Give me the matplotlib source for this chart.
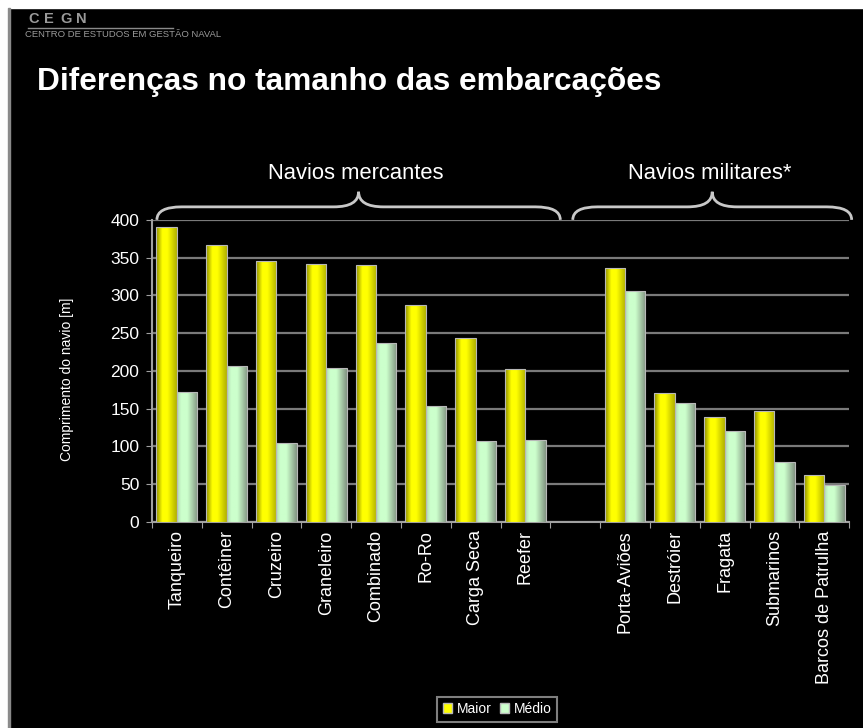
import matplotlib
matplotlib.use("Agg")
import matplotlib.pyplot as plt
import numpy as np
from matplotlib.path import Path
from matplotlib.patches import PathPatch, Patch, Rectangle
from matplotlib.colors import LinearSegmentedColormap
import matplotlib.transforms as mtransforms

plt.rcParams['font.family'] = ['Liberation Sans', 'DejaVu Sans']

# ship types (merchant, then military) and lengths in metres
mercantes = ['Tanqueiro', 'Contêiner', 'Cruzeiro', 'Graneleiro', 'Combinado',
             'Ro-Ro', 'Carga Seca', 'Reefer']
militares = ['Porta-Aviões', 'Destróier', 'Fragata', 'Submarinos',
             'Barcos de Patrulha']
maior_merc = [391, 367, 346, 342, 340, 287, 244, 203]
medio_merc = [172, 206, 105, 204, 237, 153, 107, 109]
maior_mil = [336, 171, 139, 147, 62]
medio_mil = [306, 157, 121, 80, 49]
yticks = [0, 50, 100, 150, 200, 250, 300, 350, 400]

# one empty slot between the two groups
labels = mercantes + [''] + militares
maior = maior_merc + [np.nan] + maior_mil
medio = medio_merc + [np.nan] + medio_mil
x = np.arange(len(labels))

fig = plt.figure(figsize=(8.63, 7.28), dpi=100, facecolor='black')
ax = fig.add_axes([0.176, 0.283, 0.808, 0.415], facecolor='black')

w = 0.41
b1 = ax.bar(x - w / 2, maior, w, color='#ffff00', edgecolor='#b8b8b8', linewidth=0.8, zorder=3)
b2 = ax.bar(x + w / 2, medio, w, color='#ccffcc', edgecolor='#b8b8b8', linewidth=0.8, zorder=3)

# Excel-like shaded bars
cm_y = LinearSegmentedColormap.from_list('y', [(0, '#8c8c00'), (0.3, '#ffff00'), (0.55, '#ffff00'), (1, '#b0b000')])
cm_g = LinearSegmentedColormap.from_list('g', [(0, '#b0dcb0'), (0.2, '#ccffcc'), (0.5, '#ccffcc'), (1, '#829482')])
grad = np.linspace(0, 1, 64).reshape(1, -1)
for bars, cm in ((b1, cm_y), (b2, cm_g)):
    for r in bars:
        h = r.get_height()
        if not np.isfinite(h):
            continue
        x0 = r.get_x()
        im = ax.imshow(grad, cmap=cm, aspect='auto', extent=[x0, x0 + r.get_width(), 0, h],
                       zorder=3.5, interpolation='bilinear')
        im.set_clip_path(r)
        r.set_facecolor('none')
        r.set_zorder(4)

ax.set_xlim(-0.5, len(labels) - 0.5)
ax.set_ylim(0, 400)
ax.set_yticks(yticks)
ax.yaxis.grid(True, color='#7a7a7a', linewidth=1.6, zorder=0)
ax.set_axisbelow(True)

# ticks between categories, labels at the centres
ax.set_xticks(np.arange(-0.5, len(labels), 1.0))
ax.set_xticklabels([])
ax.set_xticks(x, minor=True)
ax.set_xticklabels(labels, minor=True, rotation=90, fontsize=13, color='white')
ax.tick_params(axis='x', which='minor', length=0, pad=6)
ax.tick_params(axis='x', which='major', length=4, color='#a0a0a0', direction='out')
ax.tick_params(axis='y', length=4, color='#a0a0a0', labelsize=12.5, labelcolor='white', pad=5)

for s in ['top', 'right']:
    ax.spines[s].set_visible(False)
for s in ['left', 'bottom']:
    ax.spines[s].set_color('#a0a0a0')
    ax.spines[s].set_linewidth(1.5)

ax.set_ylabel('Comprimento do navio [m]', fontsize=10, color='white')
ax.yaxis.set_label_coords(-0.111, 0.473)

# braces above the groups
trans = mtransforms.blended_transform_factory(ax.transData, ax.transAxes)


def brace(x0, x1, xc, r=0.5, y0=1.0, y1=1.043, y2=1.093):
    verts = [(x0, y0), (x0, y1), (x0 + r, y1), (xc - r, y1), (xc, y1), (xc, y2),
             (xc, y1), (xc + r, y1), (x1 - r, y1), (x1, y1), (x1, y0)]
    codes = [Path.MOVETO, Path.CURVE3, Path.CURVE3, Path.LINETO, Path.CURVE3, Path.CURVE3,
             Path.CURVE3, Path.CURVE3, Path.LINETO, Path.CURVE3, Path.CURVE3]
    ax.add_patch(PathPatch(Path(verts, codes), transform=trans, fill=False,
                           edgecolor='#c8c8c8', linewidth=2, clip_on=False))


brace(-0.4, 7.7, 3.65)
brace(7.95, 13.55, 10.75)
ax.text(3.6, 1.155, 'Navios mercantes', transform=trans, ha='center', va='center',
        fontsize=15.8, color='white')
ax.text(10.7, 1.155, 'Navios militares*', transform=trans, ha='center', va='center',
        fontsize=15.8, color='white')

# title and logo
fig.text(0.043, 0.888, 'Diferenças no tamanho das embarcações', fontsize=22.8,
         fontweight='bold', color='white', va='center')
for i, ch in enumerate('CEGN'):
    fig.text(0.033 + i * 0.0185, 0.974, ch, fontsize=10.5, fontweight='bold',
             color='#9a9a9a', va='center')
fig.add_artist(plt.Line2D([0.032, 0.2], [0.962, 0.962], color='#8a8a8a', linewidth=1))
fig.text(0.029, 0.953, 'CENTRO DE ESTUDOS EM GESTÃO NAVAL', fontsize=6.8,
         color='#9a9a9a', va='center')

# screenshot border
fig.add_artist(Rectangle((0, 0.989), 1, 0.011, transform=fig.transFigure, color='white'))
fig.add_artist(Rectangle((0, 0), 0.0095, 1, transform=fig.transFigure, color='white'))
fig.add_artist(Rectangle((0.0095, 0), 0.002, 0.989, transform=fig.transFigure, color='#8a8a8a'))

handles = [Patch(facecolor='#ffff00', edgecolor='#b8b8b8'),
           Patch(facecolor='#ccffcc', edgecolor='#b8b8b8')]
leg = fig.legend(handles, ['Maior', 'Médio'], loc='center', bbox_to_anchor=(0.576, 0.026),
                 ncol=2, fontsize=10, frameon=True, fancybox=False, handlelength=0.7,
                 handleheight=0.7, handletextpad=0.3, columnspacing=0.6, borderpad=0.4)
leg.get_frame().set_facecolor('black')
leg.get_frame().set_edgecolor('#a0a0a0')
leg.get_frame().set_linewidth(1.5)
for t in leg.get_texts():
    t.set_color('white')

fig.savefig('out.png', dpi=100, facecolor='black')
